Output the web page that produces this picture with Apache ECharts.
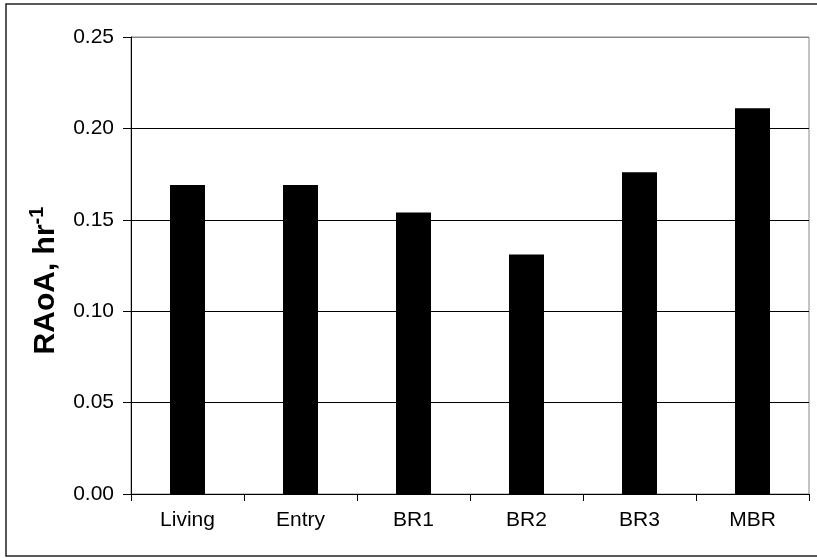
<!DOCTYPE html>
<html>
<head>
<meta charset="utf-8">
<script src="https://cdn.jsdelivr.net/npm/echarts@6/dist/echarts.min.js"></script>
<style>
html,body{margin:0;padding:0;background:#fff;}
#chart{width:817px;height:558px;}
</style>
</head>
<body>
<div id="chart"></div>
<script>
const categories = ['Living', 'Entry', 'BR1', 'BR2', 'BR3', 'MBR'];
const raoaValues = [0.169, 0.169, 0.154, 0.131, 0.176, 0.211];
const yTicks = [0, 0.05, 0.10, 0.15, 0.20, 0.25];

const chart = echarts.init(document.getElementById('chart'));
const FONT = '"Liberation Sans", Arial, sans-serif';
chart.setOption({
  animation: false,
  backgroundColor: '#fff',
  textStyle: { fontFamily: FONT },
  graphic: [{
    type: 'rect',
    shape: { x: 6, y: 4, width: 830, height: 552 },
    style: { fill: 'none', stroke: '#222', lineWidth: 1.5 },
    silent: true
  }],
  grid: {
    left: 131, right: 8, top: 37, bottom: 64,
    show: true, borderColor: '#888', borderWidth: 1, backgroundColor: 'transparent'
  },
  xAxis: {
    type: 'category',
    data: categories,
    axisLine: { lineStyle: { color: '#000', width: 1 } },
    axisTick: { show: true, length: 7, lineStyle: { color: '#000' } },
    axisLabel: { color: '#000', fontSize: 21, fontFamily: FONT, margin: 16 }
  },
  yAxis: {
    type: 'value',
    min: yTicks[0],
    max: yTicks[yTicks.length - 1],
    interval: 0.05,
    name: '{a|RAoA, hr}{b|-1}',
    nameLocation: 'middle',
    nameRotate: 90,
    nameGap: 66,
    nameTextStyle: {
      padding: [0, 30, 0, 0],
      rich: {
        a: { fontSize: 30, fontWeight: 'bold', color: '#000', fontFamily: FONT, lineHeight: 38 },
        b: { fontSize: 20, fontWeight: 'bold', color: '#000', fontFamily: FONT, verticalAlign: 'top', lineHeight: 38, padding: [0, 0, 14, 0] }
      }
    },
    axisLine: { show: true, lineStyle: { color: '#000', width: 1 } },
    axisTick: { show: true, length: 8, lineStyle: { color: '#000' } },
    axisLabel: {
      color: '#000', fontSize: 21, fontFamily: FONT, margin: 17,
      formatter: v => v.toFixed(2)
    },
    splitLine: { show: true, lineStyle: { color: ['#000', '#000', '#000', '#000', '#000', '#888'], width: 1 } }
  },
  series: [{
    type: 'bar',
    data: raoaValues,
    barWidth: 35,
    itemStyle: { color: '#000' }
  }]
});
</script>
</body>
</html>
